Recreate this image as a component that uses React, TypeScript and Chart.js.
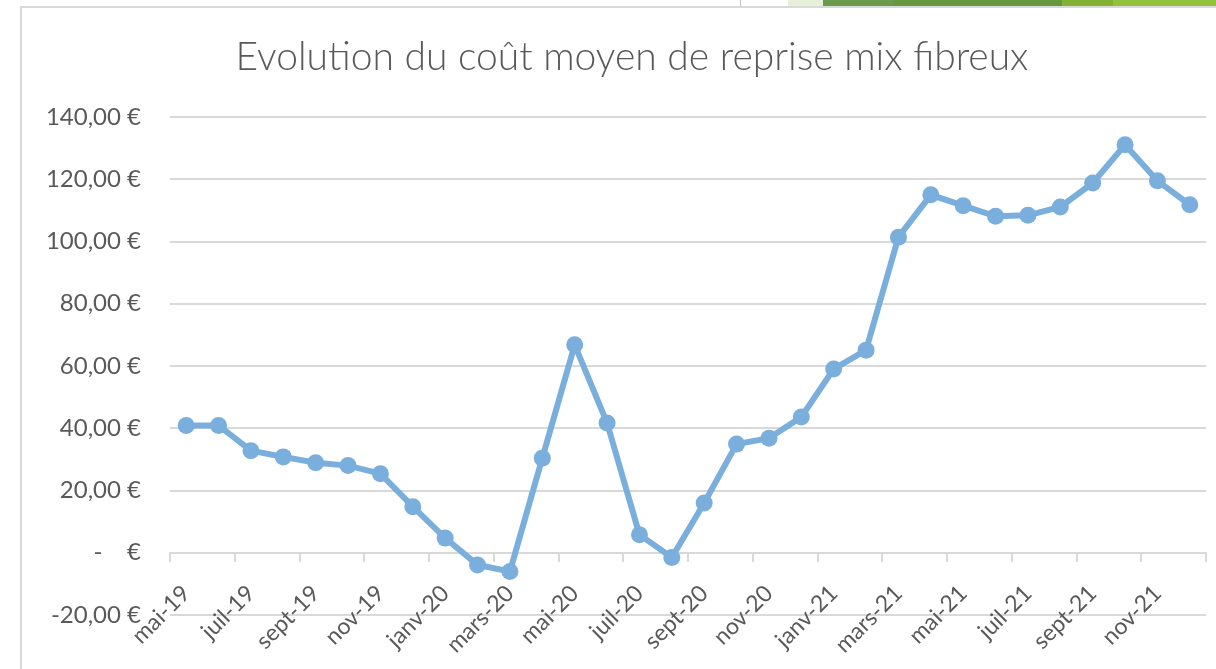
import React, { useEffect, useRef } from "react";
import { Chart, registerables } from "chart.js";

Chart.register(...registerables);

const TITLE = "Evolution du coût moyen de reprise mix fibreux";

const months: string[] = [
  "mai-19", "juin-19", "juil-19", "août-19", "sept-19", "oct-19", "nov-19", "déc-19",
  "janv-20", "févr-20", "mars-20", "avr-20", "mai-20", "juin-20", "juil-20", "août-20",
  "sept-20", "oct-20", "nov-20", "déc-20", "janv-21", "févr-21", "mars-21", "avr-21",
  "mai-21", "juin-21", "juil-21", "août-21", "sept-21", "oct-21", "nov-21", "déc-21",
];

const coutMoyen: number[] = [
  40.9, 40.9, 32.8, 30.8, 28.9, 28.0, 25.4, 14.8,
  4.7, -3.9, -6.0, 30.4, 66.8, 41.7, 5.8, -1.5,
  16.0, 34.9, 36.8, 43.6, 59.0, 65.1, 101.4, 115.0,
  111.5, 108.1, 108.4, 111.1, 118.8, 131.1, 119.5, 111.8,
];

const Y_MIN = -20;
const Y_MAX = 140;
const Y_STEP = 20;

const TEXT = "#595959";
const GRID = "#d9d9d9";
const LINE = "#7aaedc";
const FONT = "Lato";

function formatEuro(v: number): string {
  if (v === 0) return "-\u00a0\u00a0\u00a0\u00a0€";
  return v.toFixed(2).replace(".", ",") + "\u00a0€";
}

// Centre the title over the whole chart object (not only the padded box)
const centerTitle = {
  id: "centerTitle",
  afterLayout(chart: any) {
    const t = chart.titleBlock;
    if (t) {
      t.left = 0;
      t.right = chart.width - 2;
      t.width = t.right - t.left;
    }
  },
};

export default function App() {
  const ref = useRef<HTMLCanvasElement | null>(null);

  useEffect(() => {
    if (!ref.current) return;
    const chart = new Chart(ref.current, {
      type: "line",
      data: {
        labels: months,
        datasets: [
          {
            label: "Coût moyen",
            data: coutMoyen,
            borderColor: LINE,
            backgroundColor: LINE,
            borderWidth: 6,
            pointRadius: 8.5,
            pointBorderWidth: 0,
            pointBackgroundColor: LINE,
            tension: 0,
            clip: false as any,
          },
        ],
      },
      plugins: [centerTitle],
      options: {
        responsive: false,
        animation: false,
        devicePixelRatio: 1,
        layout: { padding: { left: 0, right: 38, top: 0, bottom: 54 } },
        plugins: {
          legend: { display: false },
          tooltip: { enabled: false },
          title: {
            display: true,
            text: TITLE,
            color: TEXT,
            font: { family: FONT, size: 39, weight: "300" as any, lineHeight: 1.2 },
            padding: { top: 26, bottom: 36.2 },
          },
        },
        scales: {
          x: {
            type: "category",
            offset: true,
            position: { y: 0 } as any,
            afterFit: (scale: any) => {
              scale.height = 0;
            },
            grid: {
              drawOnChartArea: false,
              offset: true,
              tickLength: 8,
              lineWidth: 2,
              color: GRID,
              tickColor: (c: any) =>
                c.index === undefined || c.index % 2 === 0 ? GRID : "rgba(0,0,0,0)",
            },
            border: { display: true, color: GRID, width: 2 },
            ticks: {
              autoSkip: false,
              minRotation: 45,
              maxRotation: 45,
              padding: 19,
              color: TEXT,
              font: { family: FONT, size: 23 },
              callback: (_v: any, i: number) => (i % 2 === 0 ? months[i] : ""),
            },
          },
          y: {
            min: Y_MIN,
            max: Y_MAX,
            afterFit: (scale: any) => {
              scale.width = 148;
            },
            grid: { color: GRID, lineWidth: 2, drawTicks: false },
            border: { display: false },
            ticks: {
              stepSize: Y_STEP,
              padding: 29,
              color: TEXT,
              font: { family: FONT, size: 24 },
              callback: (v: any) => formatEuro(Number(v)),
            },
          },
        },
      },
    });
    return () => chart.destroy();
  }, []);

  const strip = [
    { l: 788, r: 823, c: "#e6f0d8" },
    { l: 823, r: 894, c: "#6b9a4c" },
    { l: 894, r: 1062, c: "#67973f" },
    { l: 1062, r: 1113, c: "#83b133" },
    { l: 1113, r: 1216, c: "#94c13c" },
  ];

  return (
    <div
      style={{
        position: "fixed",
        left: 0,
        top: 0,
        width: 1216,
        height: 669,
        overflow: "hidden",
        background: "#ffffff",
      }}
    >
      {strip.map((s, i) => (
        <div
          key={i}
          style={{ position: "absolute", left: s.l, top: 0, width: s.r - s.l, height: 6, background: s.c }}
        />
      ))}
      <div style={{ position: "absolute", left: 740, top: 0, width: 1, height: 6, background: "#bfbfbf" }} />
      <div
        style={{
          position: "absolute",
          left: 20,
          top: 6,
          width: 1300,
          height: 700,
          borderLeft: "2px solid #d9d9d9",
          borderTop: "2px solid #d9d9d9",
        }}
      />
      <canvas
        ref={ref}
        width={1222}
        height={661}
        style={{ position: "absolute", left: 22, top: 8, width: 1222, height: 661 }}
      />
    </div>
  );
}
